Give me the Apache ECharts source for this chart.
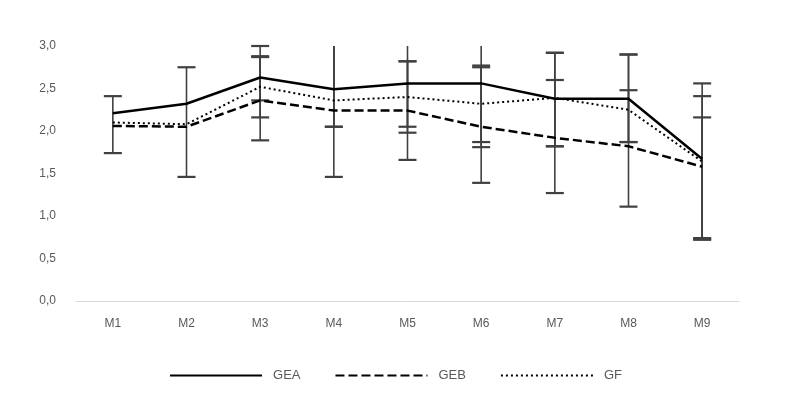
<!DOCTYPE html>
<html>
<head>
<meta charset="utf-8">
<script src="https://cdn.jsdelivr.net/npm/echarts@6/dist/echarts.min.js"></script>
<style>
  html, body { margin: 0; padding: 0; background: #fff; }
  #chart { width: 791px; height: 405px; }
</style>
</head>
<body>
<div id="chart"></div>
<script>
// Months on the category axis
const categories = ['M1', 'M2', 'M3', 'M4', 'M5', 'M6', 'M7', 'M8', 'M9'];

// Group means
const gea = [2.21, 2.32, 2.63, 2.49, 2.56, 2.56, 2.38, 2.38, 1.67];
const geb = [2.06, 2.05, 2.36, 2.24, 2.24, 2.05, 1.92, 1.82, 1.58];
const gf  = [2.10, 2.08, 2.52, 2.36, 2.40, 2.32, 2.39, 2.25, 1.64];

// Error amounts above / below each mean (null = no bar shown)
const geaPlus  = [null, null, 0.37, 0.60, 0.51, 0.60, 0.54, 0.52, 0.89];
const geaMinus = [null, null, 0.27, 0.44, 0.51, 0.75, 0.56, 0.51, 0.95];
const gebPlus  = [0.35, null, 0.51, 0.78, 0.58, 0.70, 0.68, 0.66, 0.58];
const gebMinus = [0.32, null, 0.47, 0.78, 0.58, 0.66, 0.65, 0.71, 0.84];
const gfPlus   = [null, 0.67, 0.36, 0.70, 0.42, 0.45, 0.53, 0.65, 0.77];
const gfMinus  = [null, 0.62, 0.36, 0.31, 0.42, 0.45, 0.57, 0.38, 0.91];

// Y axis ticks
const yMin = 0, yMax = 3, yStep = 0.5;

const chart = echarts.init(document.getElementById('chart'));

function errorData(means, plus, minus) {
  const out = [];
  means.forEach((m, i) => {
    if (plus[i] != null && minus[i] != null) out.push([i, m - minus[i], m + plus[i]]);
  });
  return out;
}

const barColor = '#404040';

function renderError(params, api) {
  const x = api.value(0);
  let lo = api.value(1), hi = api.value(2);
  const loClipped = lo < yMin, hiClipped = hi > yMax + 0.005;
  lo = Math.max(lo, yMin); hi = Math.min(hi, yMax);
  const pLo = api.coord([x, lo]);
  const pHi = api.coord([x, hi]);
  const half = 9;
  const children = [{
    type: 'line',
    shape: { x1: pLo[0], y1: pLo[1], x2: pHi[0], y2: pHi[1] },
    style: { stroke: barColor, lineWidth: 1.6 }
  }];
  const cap = { stroke: barColor, lineWidth: 2.2 };
  if (!hiClipped) children.push({ type: 'line', shape: { x1: pHi[0] - half, y1: pHi[1], x2: pHi[0] + half, y2: pHi[1] }, style: cap });
  if (!loClipped) children.push({ type: 'line', shape: { x1: pLo[0] - half, y1: pLo[1], x2: pLo[0] + half, y2: pLo[1] }, style: cap });
  return { type: 'group', children: children };
}

function errSeries(means, plus, minus) {
  return {
    type: 'custom',
    renderItem: renderError,
    data: errorData(means, plus, minus),
    encode: { x: 0, y: [1, 2] },
    z: 1,
    silent: true
  };
}

const lineBase = { type: 'line', symbol: 'none', showSymbol: false, z: 3, silent: true };
const font = 'Liberation Sans, Arial, sans-serif';

chart.setOption({
  animation: false,
  backgroundColor: '#ffffff',
  grid: { left: 76, right: 52, top: 46, bottom: 104 },
  legend: {
    bottom: 18,
    left: 'center',
    itemWidth: 92,
    itemHeight: 12,
    itemGap: 34,
    itemStyle: { opacity: 0 },
    textStyle: { color: '#595959', fontSize: 13, fontFamily: font, padding: [0, 0, 0, 6] },
    data: ['GEA', 'GEB', 'GF']
  },
  xAxis: {
    type: 'category',
    data: categories,
    boundaryGap: true,
    axisTick: { show: false },
    axisLine: { lineStyle: { color: '#d9d9d9', width: 1 } },
    axisLabel: { color: '#595959', fontSize: 12, margin: 17, fontFamily: font }
  },
  yAxis: {
    type: 'value',
    min: yMin,
    max: yMax,
    interval: yStep,
    axisLine: { show: false },
    axisTick: { show: false },
    splitLine: { show: false },
    axisLabel: {
      color: '#595959', fontSize: 12, margin: 20, fontFamily: font,
      formatter: v => v.toFixed(1).replace('.', ',')
    }
  },
  series: [
    errSeries(gea, geaPlus, geaMinus),
    errSeries(geb, gebPlus, gebMinus),
    errSeries(gf, gfPlus, gfMinus),
    Object.assign({}, lineBase, { name: 'GEA', data: gea, lineStyle: { color: '#000', width: 2.5, type: 'solid' }, itemStyle: { color: '#000' } }),
    Object.assign({}, lineBase, { name: 'GEB', data: geb, lineStyle: { color: '#000', width: 2.5, type: [9, 4] }, itemStyle: { color: '#000' } }),
    Object.assign({}, lineBase, { name: 'GF', data: gf, lineStyle: { color: '#000', width: 2, type: [2, 3] }, itemStyle: { color: '#000' } })
  ]
});
</script>
</body>
</html>
